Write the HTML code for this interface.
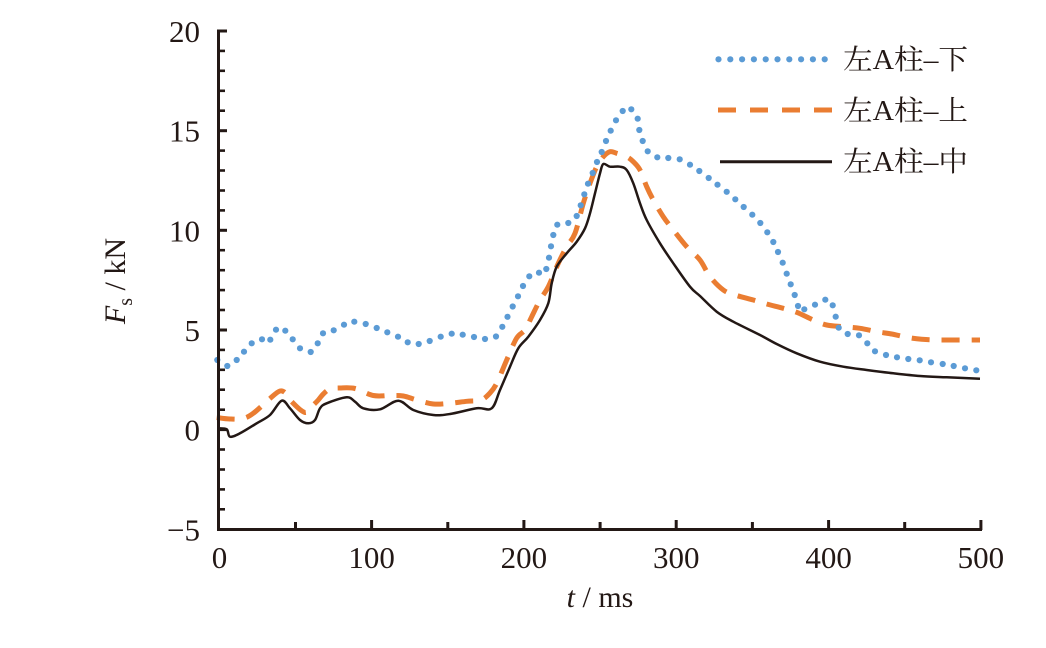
<!DOCTYPE html>
<html>
<head>
<meta charset="utf-8">
<style>
html,body{margin:0;padding:0;background:#fff;}
svg{display:block;}
text{font-family:"Liberation Serif","Noto Serif CJK SC",serif;fill:#231815;}
</style>
</head>
<body>
<svg width="1046" height="648" viewBox="0 0 1046 648" xmlns="http://www.w3.org/2000/svg">
<rect width="1046" height="648" fill="#fff"/>

<!-- series: orange dashed -->
<polyline class="smooth" fill="none" stroke="#ea7d32" stroke-width="5" stroke-dasharray="18 12" stroke-linejoin="round"
points="216.7,417.5 230,419 243,418.5 253.3,413.3 270,398.5 280,391 286.7,394 291.7,401.7 305,412.5 313.3,405 318.3,400 323.3,394 330,389 340,388 355,388.5 373.3,395.5 390,395.5 403.3,396 416.7,400 433.3,404 450,403.3 466.7,401.3 481,400 490,393 496.7,383.3 506.7,360 516.7,338 525,330 531.7,316.7 540,300 548.3,286.7 558.3,263.3 566.7,246.7 575,233.3 583.3,203.3 590,183.3 596.7,166.7 603.3,156.7 610,151.7 616.7,153.3 626.7,156.7 633.3,161.7 640,170 646.7,186.7 653.3,200 663.3,216.7 673.3,230 686.7,246.7 700,260 710,276.7 723.3,290 735,295 753.3,300 766.7,304 783.3,308.3 796.7,312.3 813.3,320 826.7,325 843.3,326.7 860,328.3 876.7,331.7 891.7,334 906.7,337.3 921.7,339.3 940,340 980,340"/>

<!-- series: black solid -->
<polyline class="smooth" fill="none" stroke="#231815" stroke-width="2.5" stroke-linejoin="round"
points="218,428.3 226.7,429.3 230,436.7 240,433.3 256.7,423.3 270,415 281.7,400.7 290,408.3 300,420 308.3,423.3 315,420 320,408.3 326.7,403.3 346.7,397.3 355,401.7 363.3,408.3 380,409.3 398.3,400.7 413.3,410 433.3,415 450,414 476.7,408.3 491.7,408.3 500,390 510,366.7 518.3,348.3 528.3,336.7 540,320 548.3,303.3 551.7,283.3 556.7,266.7 566.7,253.3 576.7,241.7 585,228.3 590,213.3 595,193.3 600,173.3 603.3,164 610,166.7 620,166.7 626.7,170 633.3,183.3 640,203.3 646.7,220 660,243.3 673.3,263.3 690,286.7 700,296 716.7,311.7 733.3,321.7 760,335 776.7,344 796.7,353.3 820,361.7 843.3,366.7 866.7,370 893.3,373.3 920,376 946.7,377.3 980,378.7"/>

<!-- series: blue dotted -->
<g fill="#5b9bd5">
<circle cx="217.3" cy="360" r="3.1"/><circle cx="227.3" cy="366" r="3.1"/><circle cx="236.7" cy="360" r="3.1"/><circle cx="244" cy="351.7" r="3.1"/><circle cx="251.7" cy="343.3" r="3.1"/><circle cx="262" cy="339.3" r="3.1"/><circle cx="270.3" cy="339.7" r="3.1"/><circle cx="276" cy="329.7" r="3.1"/><circle cx="285.3" cy="330.7" r="3.1"/><circle cx="292.7" cy="339.3" r="3.1"/><circle cx="300" cy="348.3" r="3.1"/><circle cx="310.7" cy="352" r="3.1"/><circle cx="317.7" cy="343.3" r="3.1"/><circle cx="323" cy="333.3" r="3.1"/><circle cx="333.7" cy="330.3" r="3.1"/><circle cx="344" cy="324.7" r="3.1"/><circle cx="354.3" cy="321.7" r="3.1"/><circle cx="365.7" cy="324" r="3.1"/><circle cx="376.7" cy="328" r="3.1"/><circle cx="387.3" cy="332.3" r="3.1"/><circle cx="398" cy="336.7" r="3.1"/><circle cx="407.7" cy="342.3" r="3.1"/><circle cx="418.7" cy="344" r="3.1"/><circle cx="429.7" cy="341" r="3.1"/><circle cx="440.7" cy="336.7" r="3.1"/><circle cx="451.7" cy="333.7" r="3.1"/><circle cx="462.7" cy="334.7" r="3.1"/><circle cx="474" cy="337" r="3.1"/><circle cx="485" cy="339" r="3.1"/><circle cx="496" cy="336.5" r="3.1"/><circle cx="502.3" cy="326.8" r="3.1"/><circle cx="507.5" cy="316.8" r="3.1"/><circle cx="512.7" cy="306.5" r="3.1"/>
<circle cx="518" cy="296.3" r="3.1"/><circle cx="523" cy="286" r="3.1"/><circle cx="529.3" cy="276.3" r="3.1"/><circle cx="539" cy="272.7" r="3.1"/><circle cx="546.3" cy="269" r="3.1"/><circle cx="549" cy="257.7" r="3.1"/><circle cx="551" cy="246.3" r="3.1"/><circle cx="553.3" cy="235" r="3.1"/><circle cx="557.3" cy="224.7" r="3.1"/><circle cx="568.3" cy="223" r="3.1"/><circle cx="576.7" cy="216" r="3.1"/><circle cx="580.7" cy="205.3" r="3.1"/><circle cx="584.3" cy="194.3" r="3.1"/><circle cx="588" cy="183.7" r="3.1"/><circle cx="592.7" cy="173" r="3.1"/><circle cx="597" cy="162" r="3.1"/><circle cx="601.7" cy="152" r="3.1"/><circle cx="606" cy="141" r="3.1"/><circle cx="610.7" cy="130.7" r="3.1"/><circle cx="616" cy="120.3" r="3.1"/><circle cx="622.7" cy="111" r="3.1"/><circle cx="631.3" cy="109.3" r="3.1"/><circle cx="637.7" cy="118.7" r="3.1"/><circle cx="639.3" cy="130" r="3.1"/><circle cx="642.7" cy="141" r="3.1"/><circle cx="647.7" cy="151.3" r="3.1"/><circle cx="657.3" cy="157.3" r="3.1"/><circle cx="668.3" cy="158" r="3.1"/><circle cx="679.7" cy="159.3" r="3.1"/><circle cx="690" cy="164.7" r="3.1"/><circle cx="699.3" cy="171" r="3.1"/><circle cx="708.7" cy="178" r="3.1"/><circle cx="717.5" cy="184.7" r="3.1"/><circle cx="726.7" cy="191.8" r="3.1"/>
<circle cx="735.3" cy="199.3" r="3.1"/><circle cx="743.7" cy="207" r="3.1"/><circle cx="752.3" cy="214.7" r="3.1"/><circle cx="760.3" cy="223" r="3.1"/><circle cx="767.3" cy="232.3" r="3.1"/><circle cx="773.3" cy="242" r="3.1"/><circle cx="778" cy="252" r="3.1"/><circle cx="782.7" cy="262.7" r="3.1"/><circle cx="786.7" cy="273.7" r="3.1"/><circle cx="790.7" cy="284.3" r="3.1"/><circle cx="794.7" cy="295" r="3.1"/><circle cx="798" cy="306" r="3.1"/><circle cx="804.3" cy="309.3" r="3.1"/><circle cx="815" cy="304.7" r="3.1"/><circle cx="825.3" cy="299.7" r="3.1"/><circle cx="832.7" cy="305.3" r="3.1"/><circle cx="835.7" cy="316.7" r="3.1"/><circle cx="838.7" cy="327.7" r="3.1"/><circle cx="847.7" cy="334" r="3.1"/><circle cx="859" cy="335.3" r="3.1"/><circle cx="867.3" cy="343.3" r="3.1"/><circle cx="875" cy="351.3" r="3.1"/><circle cx="886" cy="355" r="3.1"/><circle cx="897" cy="357.3" r="3.1"/><circle cx="908.3" cy="359" r="3.1"/><circle cx="919.7" cy="360.3" r="3.1"/><circle cx="931" cy="362.3" r="3.1"/><circle cx="942.7" cy="364" r="3.1"/><circle cx="953.7" cy="366" r="3.1"/><circle cx="965" cy="368.3" r="3.1"/><circle cx="976.3" cy="370.3" r="3.1"/>
</g>

<!-- axes -->
<g stroke="#231815" stroke-width="3" fill="none">
<line x1="218.5" y1="29.5" x2="218.5" y2="531"/>
<line x1="217" y1="529.5" x2="982" y2="529.5"/>
<line x1="218" y1="31" x2="227" y2="31"/>
<line x1="218" y1="130.7" x2="227" y2="130.7"/>
<line x1="218" y1="230.3" x2="227" y2="230.3"/>
<line x1="218" y1="330" x2="227" y2="330"/>
<line x1="218" y1="429.6" x2="227" y2="429.6"/>
<g stroke-width="2.6">
<line x1="218" y1="50.9" x2="225" y2="50.9"/><line x1="218" y1="70.8" x2="225" y2="70.8"/><line x1="218" y1="90.8" x2="225" y2="90.8"/><line x1="218" y1="110.7" x2="225" y2="110.7"/>
<line x1="218" y1="150.6" x2="225" y2="150.6"/><line x1="218" y1="170.5" x2="225" y2="170.5"/><line x1="218" y1="190.5" x2="225" y2="190.5"/><line x1="218" y1="210.4" x2="225" y2="210.4"/>
<line x1="218" y1="250.2" x2="225" y2="250.2"/><line x1="218" y1="270.2" x2="225" y2="270.2"/><line x1="218" y1="290.1" x2="225" y2="290.1"/><line x1="218" y1="310" x2="225" y2="310"/>
<line x1="218" y1="349.9" x2="225" y2="349.9"/><line x1="218" y1="369.8" x2="225" y2="369.8"/><line x1="218" y1="389.7" x2="225" y2="389.7"/><line x1="218" y1="409.7" x2="225" y2="409.7"/>
<line x1="218" y1="449.5" x2="225" y2="449.5"/><line x1="218" y1="469.5" x2="225" y2="469.5"/><line x1="218" y1="489.4" x2="225" y2="489.4"/><line x1="218" y1="509.3" x2="225" y2="509.3"/>
</g>
<line x1="295.5" y1="530" x2="295.5" y2="522"/>
<line x1="371.6" y1="530" x2="371.6" y2="520"/>
<line x1="447.8" y1="530" x2="447.8" y2="522"/>
<line x1="523.9" y1="530" x2="523.9" y2="520"/>
<line x1="600.1" y1="530" x2="600.1" y2="522"/>
<line x1="676.2" y1="530" x2="676.2" y2="520"/>
<line x1="752.4" y1="530" x2="752.4" y2="522"/>
<line x1="828.6" y1="530" x2="828.6" y2="520"/>
<line x1="904.7" y1="530" x2="904.7" y2="522"/>
<line x1="980.9" y1="530" x2="980.9" y2="520"/>
</g>

<!-- y tick labels -->
<g font-size="31" text-anchor="end">
<text x="200" y="42">20</text>
<text x="200" y="141.5">15</text>
<text x="200" y="241.5">10</text>
<text x="200" y="341">5</text>
<text x="200" y="440.5">0</text>
<text x="200" y="540.5">−5</text>
</g>
<!-- x tick labels -->
<g font-size="31" text-anchor="middle">
<text x="219.5" y="568">0</text>
<text x="371.6" y="568">100</text>
<text x="523.9" y="568">200</text>
<text x="676.2" y="568">300</text>
<text x="828.6" y="568">400</text>
<text x="980.9" y="568">500</text>
</g>

<!-- axis titles -->
<text x="600" y="607" font-size="30" text-anchor="middle"><tspan font-style="italic">t</tspan> / ms</text>
<text transform="translate(125,281) rotate(-90)" font-size="30" text-anchor="middle"><tspan font-style="italic">F</tspan><tspan font-size="20" dy="7">s</tspan><tspan dy="-7"> / kN</tspan></text>

<!-- legend -->
<g fill="#5b9bd5">
<circle cx="718.5" cy="59.3" r="3.1"/><circle cx="730.3" cy="59.3" r="3.1"/><circle cx="742.1" cy="59.3" r="3.1"/><circle cx="753.9" cy="59.3" r="3.1"/><circle cx="765.7" cy="59.3" r="3.1"/><circle cx="777.5" cy="59.3" r="3.1"/><circle cx="789.3" cy="59.3" r="3.1"/><circle cx="801.1" cy="59.3" r="3.1"/><circle cx="812.9" cy="59.3" r="3.1"/><circle cx="824.7" cy="59.3" r="3.1"/>
</g>
<line x1="718" y1="110" x2="834" y2="110" stroke="#ea7d32" stroke-width="5" stroke-dasharray="18 14"/>
<line x1="720" y1="161.7" x2="832" y2="161.7" stroke="#231815" stroke-width="3"/>
<g font-size="28" font-family="'Noto Serif CJK SC','Liberation Serif',serif">
<text x="843" y="69" textLength="125" lengthAdjust="spacingAndGlyphs">左A柱–下</text>
<text x="843" y="120" textLength="125" lengthAdjust="spacingAndGlyphs">左A柱–上</text>
<text x="843" y="171" textLength="125" lengthAdjust="spacingAndGlyphs">左A柱–中</text>
</g>
</svg>
<script>
(function(){
  var ns="http://www.w3.org/2000/svg";
  var pls=document.querySelectorAll("polyline.smooth");
  for(var i=0;i<pls.length;i++){
    var pl=pls[i];
    var raw=pl.getAttribute("points").trim().split(/\s+/);
    var p=raw.map(function(s){var a=s.split(",");return [parseFloat(a[0]),parseFloat(a[1])];});
    var d="M"+p[0][0]+","+p[0][1];
    for(var k=0;k<p.length-1;k++){
      var p0=p[k-1]||p[k],p1=p[k],p2=p[k+1],p3=p[k+2]||p2;
      var t=0.5/3;
      var c1x=p1[0]+(p2[0]-p0[0])*t,c1y=p1[1]+(p2[1]-p0[1])*t;
      var c2x=p2[0]-(p3[0]-p1[0])*t,c2y=p2[1]-(p3[1]-p1[1])*t;
      d+=" C"+c1x.toFixed(2)+","+c1y.toFixed(2)+" "+c2x.toFixed(2)+","+c2y.toFixed(2)+" "+p2[0]+","+p2[1];
    }
    var path=document.createElementNS(ns,"path");
    path.setAttribute("d",d);
    ["fill","stroke","stroke-width","stroke-dasharray","stroke-linejoin"].forEach(function(a){
      if(pl.getAttribute(a)) path.setAttribute(a,pl.getAttribute(a));
    });
    pl.parentNode.replaceChild(path,pl);
  }
})();
</script>
</body>
</html>
